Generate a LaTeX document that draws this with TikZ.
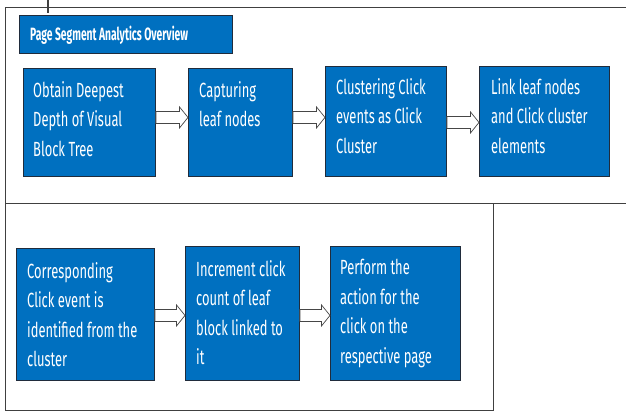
\documentclass[tikz,border=0pt]{standalone}
\usepackage{fontspec}
\setmainfont{Fira Sans}
\newfontfamily\stepfont[FakeStretch=0.63]{Fira Sans}
\newfontfamily\headfont[FakeStretch=0.58]{Fira Sans}
\usetikzlibrary{calc}

\definecolor{boxblue}{RGB}{0,112,192}
\definecolor{boxedge}{RGB}{32,44,60}
\definecolor{frameline}{RGB}{64,64,64}
\definecolor{arrowedge}{RGB}{70,70,70}

\tikzset{
  frame/.style={draw=frameline, line width=1pt},
  stepbox/.style={draw=boxedge, fill=boxblue, line width=0.9pt, inner sep=0pt},
  steptext/.style={anchor=north west, inner sep=0pt, text=white, align=left,
    font=\stepfont\fontsize{20.5}{29.5}\selectfont},
  headtext/.style={anchor=west, inner sep=0pt, text=white,
    font=\headfont\bfseries\fontsize{17.8}{20}\selectfont},
  barrow/.style={draw=arrowedge, fill=white, line width=0.7pt, line join=miter},
}

% block arrow from the east side of #2 to the west side of #3, shifted by #1
\newcommand\flowarrow[3][0pt]{%
  \draw[barrow] let \p1=([yshift=#1]#2.east), \p2=(#3.west) in
    (\x1,\y1+6pt) -- (\x2-8.5pt,\y1+6pt) -- (\x2-8.5pt,\y1+10.5pt) -- (\x2,\y1)
    -- (\x2-8.5pt,\y1-10.5pt) -- (\x2-8.5pt,\y1-6pt) -- (\x1,\y1-6pt) -- cycle;}

\begin{document}
\begin{tikzpicture}[x=1pt, y=-1pt]
\useasboundingbox (0,0) rectangle (626,411);

% outer frames
\draw[frame] (5,8) rectangle (640,204);
\draw[frame] (5,204) rectangle (493,410);
\draw[frameline, line width=1.4pt] (48,0) -- (48,13);

% heading
\node[stepbox, minimum width=213pt, minimum height=38pt, anchor=north west] (head) at (19,15) {};
\node[headtext] (headlabel) at ([shift={(11pt,-1pt)}]head.west) {Page Segment Analytics Overview};

% first row
\node[stepbox, minimum width=132pt, minimum height=108pt, anchor=north west] (b1) at (23,68) {};
\node[stepbox, minimum width=104pt, minimum height=108pt, anchor=north west] (b2) at (188,68) {};
\node[stepbox, minimum width=121pt, minimum height=110pt, anchor=north west] (b3) at (325,66) {};
\node[stepbox, minimum width=130pt, minimum height=110pt, anchor=north west] (b4) at (479,66) {};

\node[steptext] (t1) at ([shift={(10pt,-13pt)}]b1.north west) {Obtain Deepest\\Depth of Visual\\Block Tree};
\node[steptext] (t2) at ([shift={(11pt,-13pt)}]b2.north west) {Capturing\\leaf nodes};
\node[steptext] (t3) at ([shift={(11pt,-12pt)}]b3.north west) {Clustering Click\\events as Click\\Cluster};
\node[steptext] (t4) at ([shift={(12pt,-12pt)}]b4.north west) {Link leaf nodes\\and Click cluster\\elements};

\flowarrow[5pt]{b1}{b2}
\flowarrow[5pt]{b2}{b3}
\flowarrow[-1pt]{b3}{b4}

% second row
\node[stepbox, minimum width=138pt, minimum height=132pt, anchor=north west] (b5) at (16,248) {};
\node[stepbox, minimum width=114pt, minimum height=134pt, anchor=north west] (b6) at (185,246) {};
\node[stepbox, minimum width=130pt, minimum height=134pt, anchor=north west] (b7) at (330,246) {};

\node[steptext] (t5) at ([shift={(11pt,-14pt)}]b5.north west) {Corresponding\\Click event is\\identified from the\\cluster};
\node[steptext] (t6) at ([shift={(11pt,-14pt)}]b6.north west) {Increment click\\count of leaf\\block linked to\\it};
\node[steptext] (t7) at ([shift={(10pt,-13pt)}]b7.north west) {Perform the\\action for the\\click on the\\respective page};

\flowarrow[-1pt]{b5}{b6}
\flowarrow[-2pt]{b6}{b7}
\end{tikzpicture}
\end{document}
